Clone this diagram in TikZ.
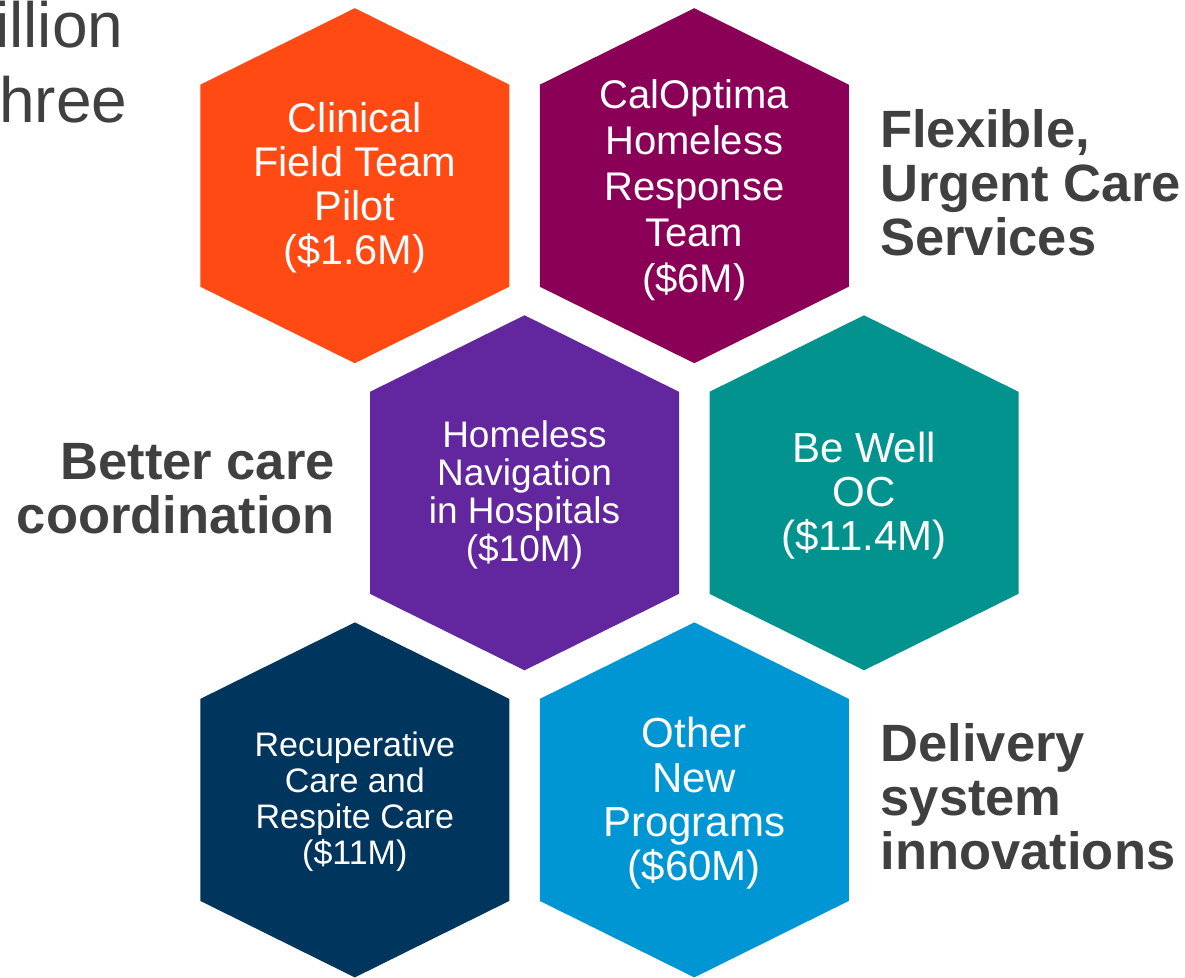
\documentclass[tikz,border=0pt]{standalone}
\usepackage{fontspec}
\setmainfont{Liberation Sans}
\usepackage{tikz}

\definecolor{hexorange}{HTML}{FF4A14}
\definecolor{hexplum}{HTML}{8A0057}
\definecolor{hexpurple}{HTML}{62279E}
\definecolor{hexteal}{HTML}{03938E}
\definecolor{hexnavy}{HTML}{00355E}
\definecolor{hexblue}{HTML}{0096D4}
\definecolor{textgray}{HTML}{404040}

\tikzset{
	hexcell/.pic={\fill (0,-177.5) -- (154.5,-101) -- (154.5,101) -- (0,177.5) -- (-154.5,101) -- (-154.5,-101) -- cycle;},
	hextext/.style={text=white, align=center, inner sep=0pt},
	theme/.style={text=textgray, font=\fontsize{52.5}{54}\selectfont\bfseries, inner sep=0pt},
	cuttitle/.style={text=textgray, font=\fontsize{64}{75}\selectfont, anchor=base west, inner sep=0pt}
}

\begin{document}
\begin{tikzpicture}[x=1pt, y=-1pt]
				\useasboundingbox (0,0) rectangle (1185,977);
				
				% what is left of the slide title
				\node[cuttitle] (titleA) at (-5,47) {illion};
				\node[cuttitle] (titleB) at (-1,122.5) {hree};
				
				% hexagons, row by row
				\pic[fill=hexorange] at (354.8,185.7) {hexcell};
				\pic[fill=hexplum]   at (694.3,185.7) {hexcell};
				\pic[fill=hexpurple] at (524.5,492.8) {hexcell};
				\pic[fill=hexteal]   at (864,492.8)   {hexcell};
				\pic[fill=hexnavy]   at (354.8,799.9) {hexcell};
				\pic[fill=hexblue]   at (694.3,799.9) {hexcell};
				
				\node[hextext, font=\fontsize{41.5}{44}\selectfont] (clinical) at (354.8,188.2) {Clinical\\Field Team\\Pilot\\(\$1.6M)};
				\node[hextext, font=\fontsize{40}{46}\selectfont] (calopt) at (694.3,190.6) {CalOptima\\Homeless\\Response\\Team\\(\$6M)};
				\node[hextext, font=\fontsize{37}{38}\selectfont] (navig) at (524.5,495.4) {Homeless\\Navigation\\in Hospitals\\(\$10M)};
				\node[hextext, font=\fontsize{42}{44}\selectfont] (bewell) at (864,495.5) {Be Well\\OC\\(\$11.4M)};
				\node[hextext, font=\fontsize{34}{36}\selectfont] (recup) at (354.8,802) {Recuperative\\Care and\\Respite Care\\(\$11M)};
				\node[hextext, font=\fontsize{42}{44.3}\selectfont] (otherprog) at (694.3,803.5) {Other\\New\\Programs\\(\$60M)};
				
				% the three themes
				\node[theme, align=left, anchor=north west] (urgent) at (880,109) {Flexible,\\Urgent Care\\Services};
				\node[theme, align=right, anchor=north east] (coord) at (335,443) {Better care\\coordination};
				\node[theme, align=left, anchor=north west] (deliv) at (880.5,723) {Delivery\\system\\innovations};
\end{tikzpicture}
\end{document}
